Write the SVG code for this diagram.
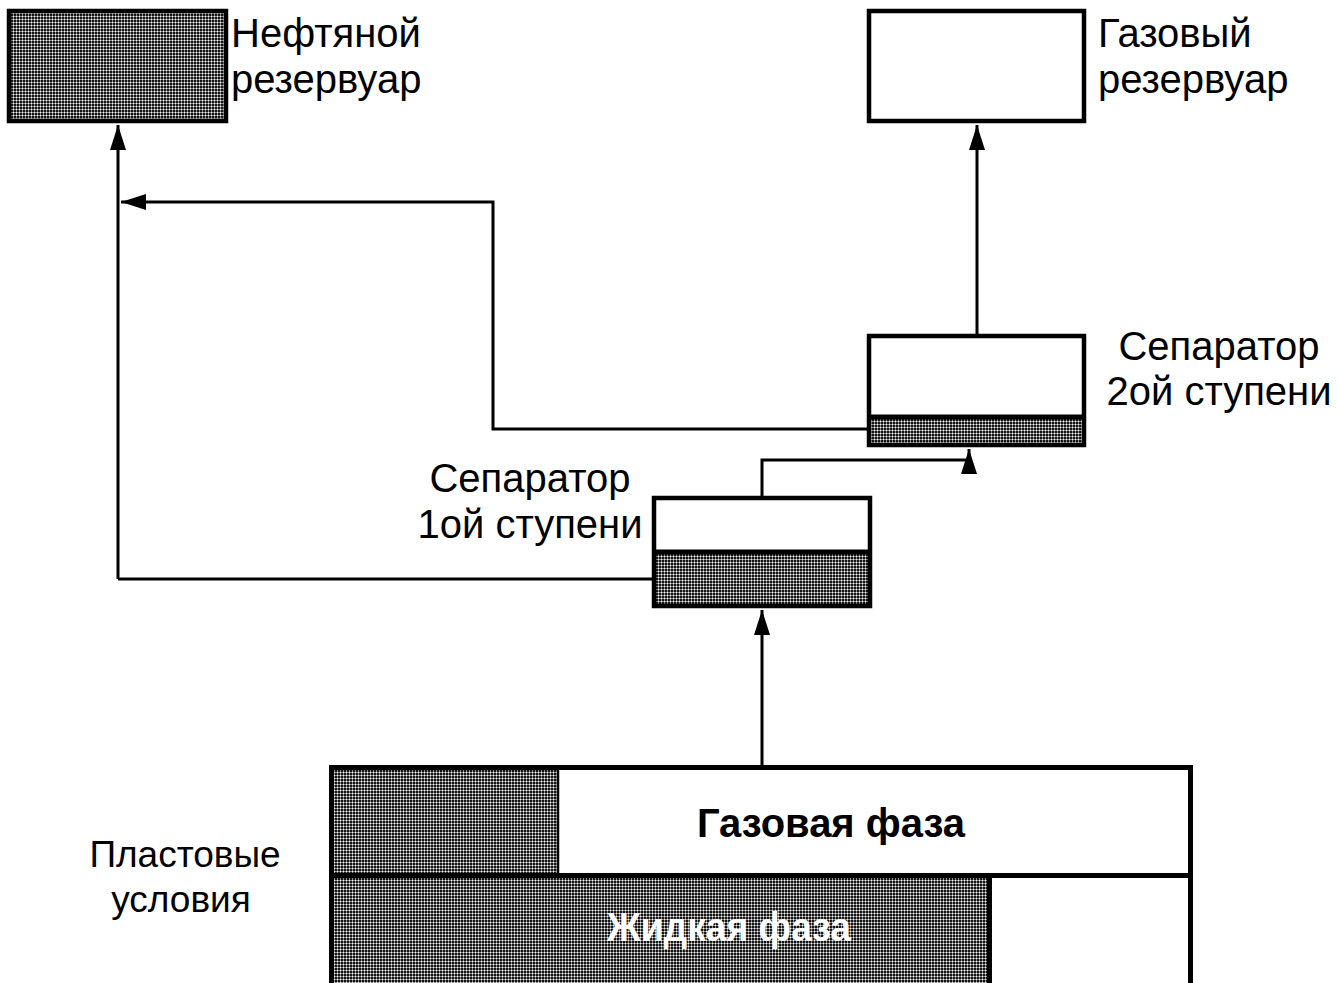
<svg xmlns="http://www.w3.org/2000/svg" width="1338" height="983" viewBox="0 0 1338 983">
<defs>
<pattern id="hatch" patternUnits="userSpaceOnUse" width="3" height="3">
<rect width="3" height="3" fill="#151515"/>
<rect x="0" y="1" width="3" height="1" fill="#8a8a8a"/>
<rect x="1" y="0" width="1" height="3" fill="#8a8a8a"/>
<rect x="1" y="1" width="1" height="1" fill="#f4f4f4"/>
</pattern>
<marker id="arr" markerUnits="userSpaceOnUse" markerWidth="28" markerHeight="18" refX="25" refY="8" orient="auto">
<path d="M0,0 L25,8 L0,16 z" fill="#000"/>
</marker>
</defs>
<style>
.box{fill:none;stroke:#000;stroke-width:4.5}
.wht{fill:#fff}
.hat{fill:url(#hatch)}
.sep{stroke:#000;stroke-width:5}
.con{fill:none;stroke:#000;stroke-width:3}
.lbl{font-family:"Liberation Sans",Arial,sans-serif;font-size:40px;fill:#000}
.small{font-size:37px}
.bold{font-family:"Liberation Sans",Arial,sans-serif;font-weight:bold;font-size:40px}
</style>
<rect width="1338" height="983" fill="#fff"/>

<g id="connectors">
<path class="con" d="M118,579 V125" marker-end="url(#arr)"/>
<path class="con" d="M652,579 H118"/>
<path class="con" d="M867,429 H493 V202 H121" marker-end="url(#arr)"/>
<path class="con" d="M977,334 V125" marker-end="url(#arr)"/>
<path class="con" d="M762,496 V460 H969"/>
<path class="con" d="M969,471 V449" marker-end="url(#arr)"/>
<path class="con" d="M762,767 V610" marker-end="url(#arr)"/>
</g>

<g id="oil-tank">
<rect class="hat" x="9" y="11" width="217" height="110"/>
<rect class="box" x="9" y="11" width="217" height="110"/>
<text class="lbl" x="231" y="47">Нефтяной</text>
<text class="lbl" x="231" y="93">резервуар</text>
</g>

<g id="gas-tank">
<rect class="wht" x="869" y="11" width="215" height="110"/>
<rect class="box" x="869" y="11" width="215" height="110"/>
<text class="lbl" x="1098" y="47">Газовый</text>
<text class="lbl" x="1098" y="93">резервуар</text>
</g>

<g id="separator-2">
<rect class="wht" x="869" y="336" width="215" height="109"/>
<rect class="hat" x="869" y="418" width="215" height="27"/>
<line class="sep" x1="869" y1="417" x2="1084" y2="417"/>
<rect class="box" x="869" y="336" width="215" height="109"/>
<text class="lbl" x="1219" y="360" text-anchor="middle">Сепаратор</text>
<text class="lbl" x="1219" y="405" text-anchor="middle">2ой ступени</text>
</g>

<g id="separator-1">
<rect class="wht" x="654" y="498" width="216" height="108"/>
<rect class="hat" x="654" y="552" width="216" height="54"/>
<line class="sep" x1="654" y1="552" x2="870" y2="552"/>
<rect class="box" x="654" y="498" width="216" height="108"/>
<text class="lbl" x="530" y="492" text-anchor="middle">Сепаратор</text>
<text class="lbl" x="530" y="538" text-anchor="middle">1ой ступени</text>
</g>

<g id="reservoir">
<rect class="wht" x="331" y="767" width="860" height="218"/>
<rect class="hat" x="331" y="767" width="227" height="108"/>
<line x1="558" y1="767" x2="558" y2="875" stroke="#000" stroke-width="2.5"/>
<rect class="hat" x="331" y="875" width="659" height="110"/>
<line class="sep" x1="331" y1="875.5" x2="1191" y2="875.5"/>
<line class="sep" x1="989.5" y1="875" x2="989.5" y2="985"/>
<rect class="box" x="331.5" y="767.5" width="859" height="218" style="stroke-width:5"/>
<text class="bold" x="831" y="837" text-anchor="middle" fill="#000" textLength="268" lengthAdjust="spacingAndGlyphs">Газовая фаза</text>
<text class="bold" x="729" y="941" text-anchor="middle" fill="#fff" textLength="244" lengthAdjust="spacingAndGlyphs">Жидкая фаза</text>
</g>

<g id="conditions-label">
<text class="lbl small" x="185" y="867" text-anchor="middle">Пластовые</text>
<text class="lbl small" x="181" y="912" text-anchor="middle">условия</text>
</g>
</svg>
